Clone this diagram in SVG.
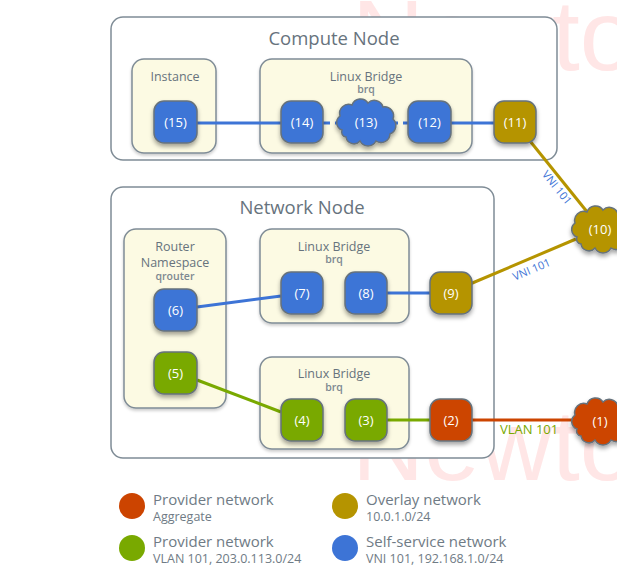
<svg xmlns="http://www.w3.org/2000/svg" width="617" height="582" viewBox="0 0 617 582">
<defs>
<filter id="sh" x="-30%" y="-30%" width="160%" height="170%">
<feDropShadow dx="0" dy="3" stdDeviation="2" flood-color="#000" flood-opacity="0.35"/>
</filter>
<filter id="shb" x="-10%" y="-10%" width="120%" height="125%">
<feDropShadow dx="0" dy="2" stdDeviation="1.5" flood-color="#000" flood-opacity="0.2"/>
</filter>
<path id="cloud" d="M-24,8 a8,8 0 0 1 -2,-14 a9,9 0 0 1 12,-11 a9,9 0 0 1 16,-2 a9,9 0 0 1 15,4 a9,9 0 0 1 10,12 a9,9 0 0 1 -3,15 a9,9 0 0 1 -14,7 a9,9 0 0 1 -16,0 a8,8 0 0 1 -14,-4 a5,5 0 0 1 -4,-7 z"/>
</defs>
<style>
text{font-family:"Open Sans","Noto Sans","DejaVu Sans",sans-serif}
.wm{font-family:"Liberation Sans",Arial,sans-serif;font-size:100px;fill:#ffe6e6}
.host{fill:#fff;stroke:#7f8c96;stroke-width:1.5}
.box{fill:#fcfae3;stroke:#7f8c96;stroke-width:1.5}
.title{font-size:18.5px;fill:#67737d;text-anchor:middle}
.lbl{font-size:12.5px;fill:#67737d;text-anchor:middle}
.sub{font-size:10.5px;font-weight:600;fill:#7d8891;text-anchor:middle}
.nd{stroke:#66727c;stroke-width:1.5}
.blue{fill:#3d74d6}
.gold{fill:#b59400}
.green{fill:#79a900}
.red{fill:#cc4400}
.nt{font-size:13px;fill:#fff;text-anchor:middle}
.lb{stroke:#3d74d6;stroke-width:3;fill:none}
.lg{stroke:#b59400;stroke-width:3;fill:none}
.lgr{stroke:#79a900;stroke-width:3;fill:none}
.lr{stroke:#cc4400;stroke-width:3;fill:none}
.dash{stroke-dasharray:7,5}
.cl{font-size:11px;fill:#3d74d6;text-anchor:middle}
.vl{font-size:13px;fill:#79a900}
.leg{font-size:15px;fill:#6f7b85}
.legs{font-size:12.5px;fill:#6f7b85}
</style>
<g id="watermark">
<text class="wm" x="352" y="70">Newto</text>
<text class="wm" x="352" y="480">Newto</text>
</g>
<g id="compute-node">
<rect class="host" x="111" y="17" width="446" height="143" rx="12"/>
<text class="title" x="334" y="45">Compute Node</text>
</g>
<g id="instance">
<rect class="box" filter="url(#shb)" x="132" y="59" width="84" height="94" rx="12"/>
<text class="lbl" x="175" y="81">Instance</text>
</g>
<g id="compute-bridge">
<rect class="box" filter="url(#shb)" x="260" y="59" width="212" height="94" rx="12"/>
<text class="lbl" x="366" y="81">Linux Bridge</text>
<text class="sub" x="366" y="93">brq</text>
</g>
<g id="network-node">
<rect class="host" x="111" y="187" width="383" height="271" rx="12"/>
<text class="title" x="302" y="214">Network Node</text>
</g>
<g id="router-namespace">
<rect class="box" filter="url(#shb)" x="124" y="229" width="102" height="179" rx="12"/>
<text class="lbl" x="175" y="251">Router</text>
<text class="lbl" x="175" y="267">Namespace</text>
<text class="sub" x="175" y="280">qrouter</text>
</g>
<g id="network-bridge-1">
<rect class="box" filter="url(#shb)" x="260" y="229" width="149" height="94" rx="12"/>
<text class="lbl" x="334" y="251">Linux Bridge</text>
<text class="sub" x="334" y="263">brq</text>
</g>
<g id="network-bridge-2">
<rect class="box" filter="url(#shb)" x="260" y="357" width="149" height="92" rx="12"/>
<text class="lbl" x="334" y="378">Linux Bridge</text>
<text class="sub" x="334" y="391">brq</text>
</g>
<g id="connectors">
<line class="lb" x1="197" y1="123" x2="281" y2="123"/>
<line class="lb dash" x1="323" y1="123" x2="341" y2="123"/>
<line class="lb dash" x1="391" y1="123" x2="408" y2="123"/>
<line class="lb" x1="451" y1="123" x2="494" y2="123"/>
<line class="lg" x1="530" y1="141" x2="588" y2="213"/>
<line class="lg" x1="470" y1="284" x2="576" y2="239"/>
<line class="lb" x1="197" y1="307" x2="281" y2="296"/>
<line class="lb" x1="387" y1="293" x2="430" y2="293"/>
<line class="lgr" x1="197" y1="380" x2="281" y2="412"/>
<line class="lgr" x1="387" y1="420" x2="430" y2="420"/>
<line class="lr" x1="472" y1="420" x2="576" y2="420"/>
<text class="cl" transform="translate(554,190) rotate(51)">VNI 101</text>
<text class="cl" transform="translate(533,273) rotate(-23)">VNI 101</text>
<text class="vl" x="500" y="434">VLAN 101</text>
</g>
<g id="n15"><rect class="nd blue" filter="url(#sh)" x="154" y="101" width="43" height="42" rx="10"/><text class="nt" x="175.5" y="127">(15)</text></g>
<g id="n14"><rect class="nd blue" filter="url(#sh)" x="281" y="101" width="42" height="42" rx="10"/><text class="nt" x="302" y="127">(14)</text></g>
<g id="n13"><use href="#cloud" class="nd blue" filter="url(#sh)" transform="translate(366,122)"/><text class="nt" x="366" y="127">(13)</text></g>
<g id="n12"><rect class="nd blue" filter="url(#sh)" x="408" y="101" width="43" height="42" rx="10"/><text class="nt" x="429.5" y="127">(12)</text></g>
<g id="n11"><rect class="nd gold" filter="url(#sh)" x="494" y="101" width="42" height="42" rx="10"/><text class="nt" x="515" y="127">(11)</text></g>
<g id="n10"><use href="#cloud" class="nd gold" filter="url(#sh)" transform="translate(601,229)"/><text class="nt" x="600" y="234">(10)</text></g>
<g id="n9"><rect class="nd gold" filter="url(#sh)" x="430" y="272" width="42" height="42" rx="10"/><text class="nt" x="451" y="298">(9)</text></g>
<g id="n8"><rect class="nd blue" filter="url(#sh)" x="345" y="272" width="42" height="42" rx="10"/><text class="nt" x="366" y="298">(8)</text></g>
<g id="n7"><rect class="nd blue" filter="url(#sh)" x="281" y="272" width="42" height="42" rx="10"/><text class="nt" x="302" y="298">(7)</text></g>
<g id="n6"><rect class="nd blue" filter="url(#sh)" x="154" y="289" width="43" height="42" rx="10"/><text class="nt" x="175.5" y="315">(6)</text></g>
<g id="n5"><rect class="nd green" filter="url(#sh)" x="154" y="352" width="43" height="42" rx="10"/><text class="nt" x="175.5" y="378">(5)</text></g>
<g id="n4"><rect class="nd green" filter="url(#sh)" x="281" y="399" width="42" height="42" rx="10"/><text class="nt" x="302" y="425">(4)</text></g>
<g id="n3"><rect class="nd green" filter="url(#sh)" x="345" y="399" width="42" height="42" rx="10"/><text class="nt" x="366" y="425">(3)</text></g>
<g id="n2"><rect class="nd red" filter="url(#sh)" x="430" y="399" width="42" height="42" rx="10"/><text class="nt" x="451" y="425">(2)</text></g>
<g id="n1"><use href="#cloud" class="nd red" filter="url(#sh)" transform="translate(601,421)"/><text class="nt" x="600" y="426">(1)</text></g>
<g id="legend">
<circle class="red" cx="132" cy="506" r="13"/>
<text class="leg" x="153" y="505">Provider network</text>
<text class="legs" x="153" y="521">Aggregate</text>
<circle class="green" cx="132" cy="548" r="13"/>
<text class="leg" x="153" y="547">Provider network</text>
<text class="legs" x="153" y="563">VLAN 101, 203.0.113.0/24</text>
<circle class="gold" cx="345" cy="506" r="13"/>
<text class="leg" x="366" y="505">Overlay network</text>
<text class="legs" x="366" y="521">10.0.1.0/24</text>
<circle class="blue" cx="345" cy="548" r="13"/>
<text class="leg" x="366" y="547">Self-service network</text>
<text class="legs" x="366" y="563">VNI 101, 192.168.1.0/24</text>
</g>
</svg>
